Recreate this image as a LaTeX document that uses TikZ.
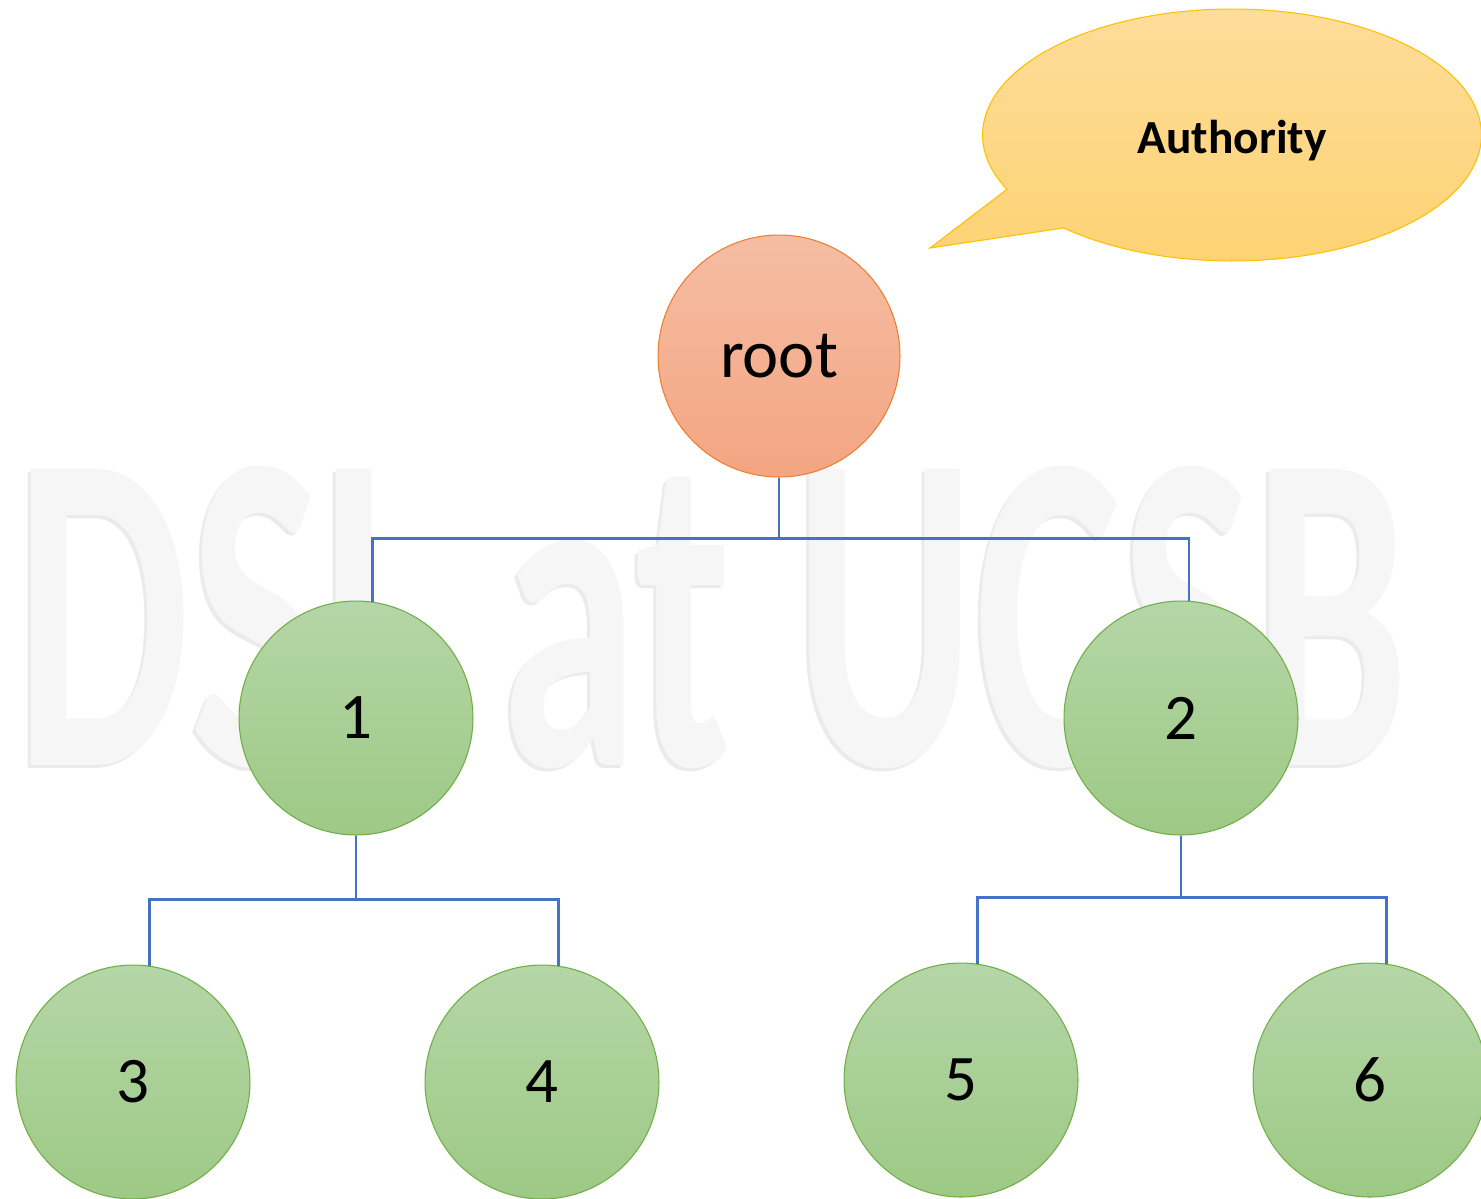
\documentclass[tikz,border=0pt]{standalone}
\usepackage{fontspec}
\setmainfont{Carlito}
\usepackage{graphicx}
\usepackage{tikz}
\usetikzlibrary{shapes.callouts, positioning, calc}

\definecolor{leafTop}{HTML}{B5D6A7}
\definecolor{leafBot}{HTML}{9DC985}
\definecolor{leafLine}{HTML}{70AD47}
\definecolor{rootTop}{HTML}{F5BDA3}
\definecolor{rootBot}{HTML}{F4A582}
\definecolor{rootLine}{HTML}{ED7D31}
\definecolor{noteTop}{HTML}{FEDD9B}
\definecolor{noteBot}{HTML}{FDD271}
\definecolor{noteLine}{HTML}{FFC000}
\definecolor{linkBlue}{HTML}{4472C4}

\begin{document}
\begin{tikzpicture}[x=0.02cm, y=-0.02cm,
    leaf/.style={circle, draw=leafLine, line width=0.6pt, top color=leafTop, bottom color=leafBot, minimum size=4.68cm, inner sep=0pt, font=\fontsize{37}{37}\selectfont},
    rootnode/.style={circle, draw=rootLine, line width=0.6pt, top color=rootTop, bottom color=rootBot, minimum size=4.84cm, inner sep=0pt, font=\fontsize{39}{39}\selectfont},
    note/.style={ellipse callout, draw=noteLine, line width=0.6pt, top color=noteTop, bottom color=noteBot, minimum width=9.98cm, minimum height=5.04cm, callout pointer arc=22, font=\fontsize{27}{27}\selectfont\bfseries},
    wmark/.style={font=\fontsize{260}{260}\selectfont\bfseries, anchor=base west, inner sep=0pt},
    link/.style={draw=linkBlue, line width=1.4pt}]
    \clip (0,0) rectangle (1481,1198);
    \node[wmark, text=gray!16] (markshade) at (12,768) {\scalebox{0.607}[1]{DSL at UCSB}};
    \node[wmark, text=gray!7] (watermark) at (15,765) {\scalebox{0.607}[1]{DSL at UCSB}};
    \node[rootnode] (root) at (779,356) {root};
    \node[leaf] (n1) at (356,718) {1};
    \node[leaf] (n2) at (1181,718) {2};
    \node[leaf] (n3) at (133,1082) {3};
    \node[leaf] (n4) at (542,1082) {4};
    \node[leaf] (n5) at (961,1080) {5};
    \node[leaf] (n6) at (1370,1080) {6};
    \node[note, callout absolute pointer={(930,248)}, text depth=0pt] (auth) at (1232,135) {\raisebox{-2.5pt}{Authority}};
    \draw[link] (root.south) -- ++(0,61) -| (n1.82);
    \draw[link] (root.south) -- ++(0,61) -| (n2.86);
    \draw[link] (n1.south) -- ++(0,64) -| (n3.82);
    \draw[link] (n1.south) -- ++(0,64) -| (n4.82);
    \draw[link] (n2.south) -- ++(0,62) -| (n5.82);
    \draw[link] (n2.south) -- ++(0,62) -| (n6.82);
\end{tikzpicture}
\end{document}
